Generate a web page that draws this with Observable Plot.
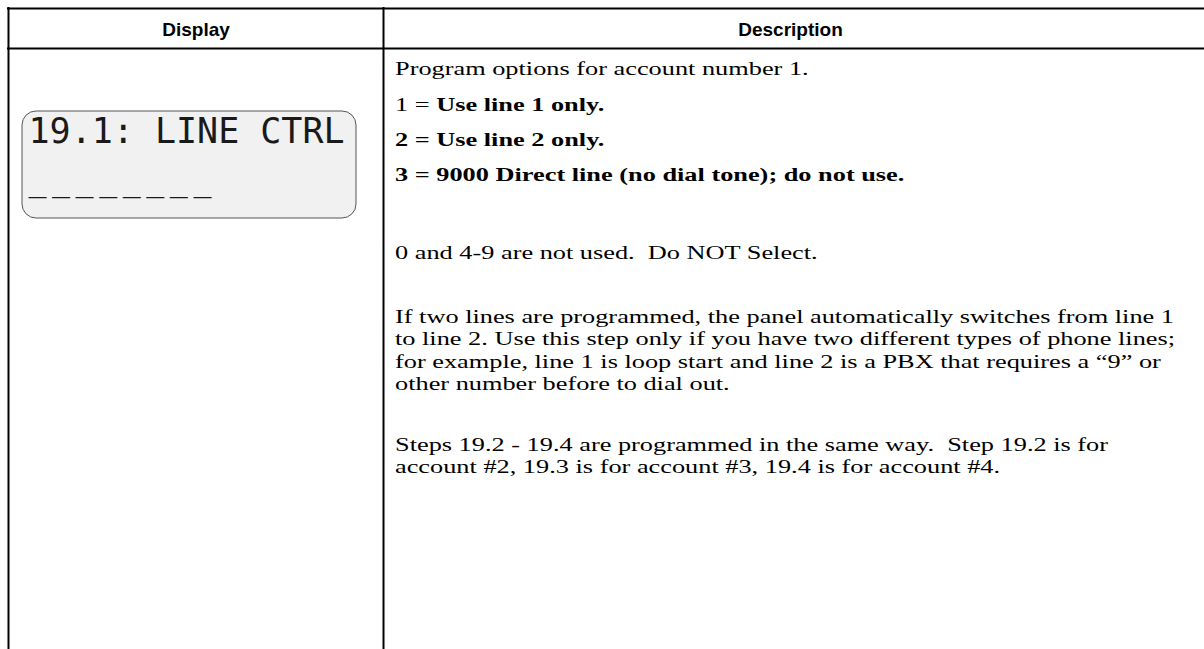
<!DOCTYPE html>
<html><head><meta charset="utf-8">
<script src="https://cdn.jsdelivr.net/npm/d3@7"></script>
<script src="https://cdn.jsdelivr.net/npm/@observablehq/plot@0.6"></script>
<style>html,body{margin:0;padding:0;background:#fff;overflow:hidden}</style>
</head><body><div id="chart"></div>
<script>
// ---- content ----
const headerLabels = ["Display", "Description"];
const lcdLines = ["19.1: LINE CTRL", "________"];
// each description row: list of [text, bold] segments
const descRows = [
  [["Program options for account number 1.", false]],
  [["1 = ", false], ["Use line 1 only.", true]],
  [["2 = Use line 2 only.", true]],
  [["3 = 9000 Direct line (no dial tone); do not use.", true]],
  [["0 and 4-9 are not used.  Do NOT Select.", false]],
  [["If two lines are programmed, the panel automatically switches from line 1", false]],
  [["to line 2. Use this step only if you have two different types of phone lines;", false]],
  [["for example, line 1 is loop start and line 2 is a PBX that requires a \u201c9\u201d or", false]],
  [["other number before to dial out.", false]],
  [["Steps 19.2 - 19.4 are programmed in the same way.  Step 19.2 is for", false]],
  [["account #2, 19.3 is for account #3, 19.4 is for account #4.", false]]
];
// spacing before each row, in line units (1 = next line of a paragraph)
const rowGaps = [0, 1.6, 1.55, 1.55, 3.45, 2.85, 1, 1, 1, 2.7, 1];

// ---- layout ----
const W = 1204, H = 649;
const T = {left: 8, top: 8, headerBottom: 48, divider: 383, right: W};
const serif = "'Liberation Serif','Times New Roman',serif";
const sans = "'Liberation Sans',Arial,Helvetica,sans-serif";
const descFont = 19.5, lineUnit = 22.5, firstRowY = 69, textX = T.divider + 12, stretch = 1.35;

const ctx = document.createElement("canvas").getContext("2d");
function measure(t, bold) { ctx.font = `${bold ? "bold " : ""}${descFont}px ${serif}`; return ctx.measureText(t).width; }

const segs = [];
let y = firstRowY;
descRows.forEach((row, i) => {
  y += rowGaps[i] * lineUnit;
  let x = textX;
  row.forEach(([t, b]) => { segs.push({t, b, x, y}); x += measure(t, b); });
});

const headerData = headerLabels.map((t, i) => ({t, x: i === 0 ? (T.left + T.divider) / 2 : (T.divider + 1197) / 2, y: (T.top + T.headerBottom) / 2 + 1}));
const box = {x1: 22, x2: 356, y1: 111, y2: 218};
const lcdData = lcdLines.map((t, i) => ({t, x: box.x1 + 6, y: i === 0 ? 131 : 181}));

const plot = Plot.plot({
  width: W, height: H, margin: 0,
  x: {domain: [0, W], range: [0, W], axis: null},
  y: {domain: [0, H], range: [0, H], axis: null},
  marks: [
    Plot.rect([box], {x1: "x1", x2: "x2", y1: "y1", y2: "y2", rx: 14, fill: "#f1f1f1", stroke: "#555", strokeWidth: 1}),
    Plot.ruleY([T.top, T.headerBottom], {x1: T.left - 1, x2: T.right, stroke: "#000", strokeWidth: 2}),
    Plot.ruleX([T.left, T.divider], {y1: T.top - 1, y2: H, stroke: "#000", strokeWidth: 2}),
    Plot.text(headerData, {x: "x", y: "y", text: "t", fontFamily: sans, fontWeight: "bold", fontSize: 19, fill: "#000", textAnchor: "middle", lineAnchor: "middle"}),
    Plot.text(lcdData, {x: "x", y: "y", text: "t", fontFamily: "'DejaVu Sans Mono',monospace", fontSize: 35, fill: "#1a1a1a", textAnchor: "start", lineAnchor: "middle"}),
    Plot.text(segs.filter(d => !d.b), {x: "x", y: "y", text: "t", fontFamily: serif, fontSize: descFont, fill: "#000", textAnchor: "start", lineAnchor: "middle"}),
    Plot.text(segs.filter(d => d.b), {x: "x", y: "y", text: "t", fontFamily: serif, fontWeight: "bold", fontSize: descFont, fill: "#000", textAnchor: "start", lineAnchor: "middle"})
  ]
});
// widen the description text horizontally around its left edge
d3.select(plot).selectAll("g").filter(function () {
  const f = this.getAttribute("font-family");
  return f && f.includes("Liberation Serif");
}).attr("transform", `translate(${textX},0) scale(${stretch},1) translate(${-textX},0)`);
// dashes on the LCD second line: spaced underscores
d3.select(plot).selectAll("text").filter(function () { return this.textContent === lcdLines[1]; })
  .attr("letter-spacing", "5.5px").attr("font-size", 30);
document.getElementById("chart").appendChild(plot);
</script>
</body></html>
